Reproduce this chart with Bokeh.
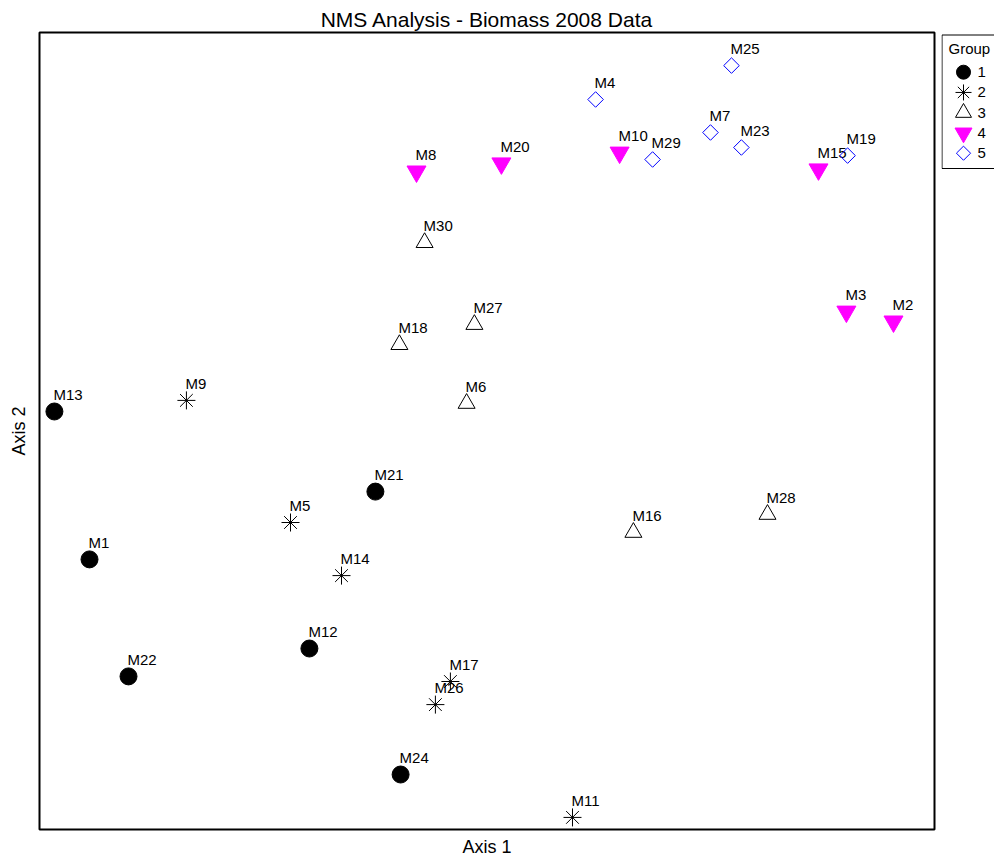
import math
from bokeh.plotting import figure
from bokeh.layouts import row
from bokeh.models import ColumnDataSource, Range1d, FixedTicker
from bokeh.core.properties import value
from bokeh.embed import file_html
from bokeh.resources import INLINE

# ---- data (NMS scores) ----
g1_names = ["M13", "M1", "M22", "M21", "M12", "M24"]
g1_x = [-1.442, -1.325, -1.195, -0.372, -0.592, -0.288]
g1_y = [0.065, -0.428, -0.818, -0.202, -0.725, -1.145]

g2_names = ["M9", "M5", "M14", "M17", "M26", "M11"]
g2_x = [-1.002, -0.655, -0.485, -0.122, -0.172, 0.285]
g2_y = [0.102, -0.305, -0.482, -0.835, -0.912, -1.288]

g3_names = ["M30", "M27", "M18", "M6", "M16", "M28"]
g3_x = [-0.208, -0.042, -0.292, -0.068, 0.488, 0.935]
g3_y = [0.628, 0.355, 0.288, 0.092, -0.338, -0.278]

g4_names = ["M8", "M20", "M10", "M15", "M3", "M2"]
g4_x = [-0.235, 0.048, 0.442, 1.105, 1.198, 1.355]
g4_y = [0.865, 0.892, 0.928, 0.872, 0.398, 0.365]

g5_names = ["M4", "M25", "M7", "M23", "M29", "M19"]
g5_x = [0.362, 0.815, 0.745, 0.848, 0.552, 1.202]
g5_y = [1.105, 1.218, 0.995, 0.945, 0.905, 0.918]

group_labels = ["1", "2", "3", "4", "5"]
legend_title = "Group"

FONT = "Liberation Sans"
BORDERS = dict(min_border_top=32, min_border_bottom=31)

# ---------------- main plot ----------------
p = figure(width=941, height=860, output_backend="svg", toolbar_location=None,
           x_range=Range1d(-1.4917, 1.4917), y_range=Range1d(-1.3283, 1.3283),
           min_border_left=39, min_border_right=7, **BORDERS,
           title="NMS Analysis - Biomass 2008 Data")
p.grid.visible = False
p.outline_line_color = "black"
p.outline_line_width = 2
p.background_fill_color = "white"
p.border_fill_color = "white"

p.title.align = "center"
p.title.vertical_align = "middle"
p.title.text_font = FONT
p.title.text_font_size = "21px"
p.title.text_font_style = "normal"
p.title.text_color = "black"
p.title.standoff = 2
p.title.offset = 0

for ax, lab in ((p.xaxis, "Axis 1"), (p.yaxis, "Axis 2")):
    ax.ticker = FixedTicker(ticks=[])
    ax.axis_label = lab
    ax.axis_label_text_font = FONT
    ax.axis_label_text_font_size = "18px"
    ax.axis_label_text_font_style = "normal"
    ax.axis_label_text_color = "black"
    ax.major_tick_line_color = None
    ax.minor_tick_line_color = None
    ax.major_tick_out = 0
    ax.major_tick_in = 0
    ax.minor_tick_out = 0
    ax.minor_tick_in = 0
    ax.major_label_standoff = 0
    ax.axis_line_color = None
p.xaxis.axis_label_standoff = 7
p.yaxis.axis_label_standoff = 11

styles = [
    dict(marker="circle", fill_color="black", line_color="black"),
    dict(marker="asterisk", line_color="black", line_width=1),
    dict(marker="triangle", fill_color=None, line_color="black", line_width=1),
    dict(marker="inverted_triangle", fill_color="#FF00FF", line_color="#FF00FF"),
    dict(marker="square", angle=math.pi / 4, fill_color=None, line_color="#0000FF", line_width=1),
]
plot_sizes = [17, 18, 17, 19, 11]
legend_sizes = [14, 16, 16, 17, 10]

groups = [
    (g1_names, g1_x, g1_y),
    (g2_names, g2_x, g2_y),
    (g3_names, g3_x, g3_y),
    (g4_names, g4_x, g4_y),
    (g5_names, g5_x, g5_y),
]

for (names, xs, ys), style, sz in zip(groups, styles, plot_sizes):
    src = ColumnDataSource(dict(x=xs, y=ys, name=names))
    p.scatter("x", "y", source=src, size=sz, **style)
    p.text("x", "y", text="name", source=src, text_font=value(FONT), text_font_size="15px",
           text_color="black", text_baseline="alphabetic", text_align="left",
           x_offset=-1, y_offset=-17)

# ---------------- legend panel (screen-like units, y down from frame top) ----------------
lg = figure(width=53, height=860, output_backend="svg", toolbar_location=None,
            x_range=Range1d(0, 53), y_range=Range1d(797, 0),
            min_border_left=0, min_border_right=0, **BORDERS)
lg.axis.visible = False
lg.grid.visible = False
lg.outline_line_color = None
lg.border_fill_color = "white"
lg.background_fill_color = "white"

BOX_L, BOX_R, BOX_T, BOX_B = 0.5, 90, 2.5, 136
GLYPH_X, LABEL_X, TITLE_X = 22, 36, 7
ROW0, PITCH, TITLE_Y = 39.7, 20.25, 16

lg.quad(left=[BOX_L], right=[BOX_R], top=[BOX_T], bottom=[BOX_B],
        fill_color="white", line_color="black", line_width=1)
for i, (lab, style, sz) in enumerate(zip(group_labels, styles, legend_sizes)):
    yy = ROW0 + i * PITCH
    src = ColumnDataSource(dict(x=[GLYPH_X], y=[yy], lx=[LABEL_X], label=[lab]))
    lg.scatter("x", "y", source=src, size=sz, **style)
    lg.text("lx", "y", text="label", source=src, text_font=value(FONT), text_font_size="15px",
            text_color="black", text_baseline="middle", text_align="left")
lg.text(x=[TITLE_X], y=[TITLE_Y], text=[legend_title], text_font=value(FONT), text_font_size="15px",
        text_color="black", text_baseline="middle", text_align="left")

layout = row(p, lg, spacing=0)
open("out.html", "w").write(file_html(layout, INLINE))
